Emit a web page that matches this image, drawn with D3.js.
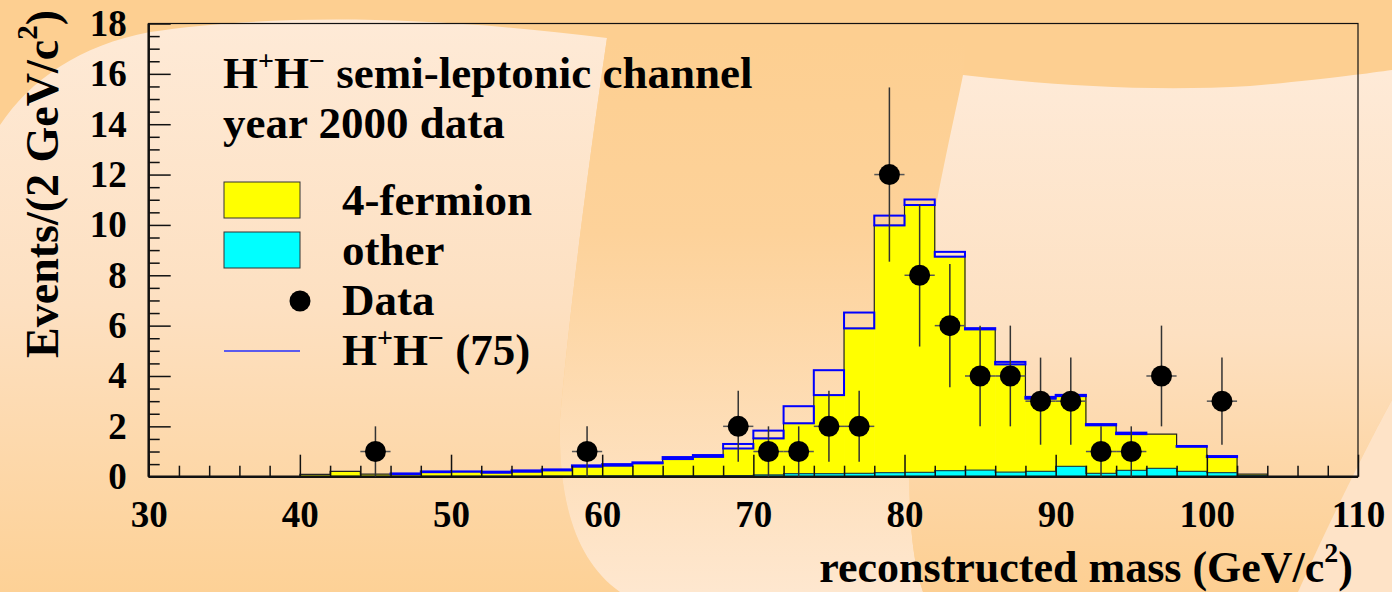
<!DOCTYPE html>
<html><head><meta charset="utf-8">
<script src="https://cdn.jsdelivr.net/npm/d3@7"></script>
<style>html,body{margin:0;padding:0;background:#fdcf91;}svg{display:block;}</style>
</head><body>
<svg id="c" width="1392" height="592"></svg>
<script>
// ---- data ----
const binLow = [40,42,44,46,48,50,52,54,56,58,60,62,64,66,68,70,72,74,76,78,80,82,84,86,88,90,92,94,96,98,100,102];
const binWidth = 2;
const otherBg = [0.01,0.01,0.01,0.01,0.01,0.01,0.01,0.01,0.02,0.03,0.03,0.03,0.03,0.03,0.04,0.07,0.12,0.12,0.13,0.16,0.17,0.24,0.26,0.18,0.21,0.41,0.13,0.25,0.33,0.21,0.16,0.04];
const fourFermion = [0.08,0.20,0.09,0.09,0.17,0.19,0.15,0.19,0.23,0.37,0.41,0.50,0.67,0.76,1.08,1.45,2.00,3.12,5.76,9.82,10.62,8.50,5.59,4.28,2.89,2.79,1.91,1.44,1.36,0.98,0.62,0.06];
const signalHH = [0,0,0,0.03,0.03,0.01,0.04,0.05,0.04,0.05,0.06,0.04,0.08,0.07,0.18,0.31,0.68,0.99,0.63,0.39,0.22,0.19,0.05,0.10,0.07,0.05,0.05,0.06,0,0.03,0.04,0];
const dataMass = [45,59,69,71,73,75,77,79,81,83,85,87,89,91,93,95,97,101];
const dataCounts = [1,1,2,1,1,2,2,12,8,6,4,4,3,3,1,1,4,3];
const dataErr = [1,1,1.41,1,1,1.41,1.41,3.46,2.83,2.45,2,2,1.73,1.73,1,1,2,1.73];
const xMajorTicks = [30,40,50,60,70,80,90,100,110];
const yMajorTicks = [0,2,4,6,8,10,12,14,16,18];
const legendLabels = ["4-fermion","other","Data"];

const svg = d3.select("#c");
const FONT = "'Liberation Serif','Times New Roman',serif";

// ---- decorative background ----
const defs = svg.append("defs");
function grad(id, y1, y2, stops){
  const g = defs.append("linearGradient").attr("id",id).attr("gradientUnits","userSpaceOnUse")
    .attr("x1",0).attr("x2",0).attr("y1",y1).attr("y2",y2);
  stops.forEach(s=>g.append("stop").attr("offset",s[0]).attr("stop-color",s[1]));
}
grad("gA",20,592,[[0,"#feead7"],[0.5,"#fde0c1"],[1,"#fdd196"]]);
grad("gM",40,592,[[0,"#fdcf91"],[0.35,"#fdd29a"],[1,"#fee7cf"]]);
grad("gB",75,592,[[0,"#feead7"],[0.5,"#fde0c1"],[0.75,"#fdd7a8"],[1,"#fdcf92"]]);
svg.append("rect").attr("width",1392).attr("height",592).attr("fill","#fdcf91");
svg.append("path").attr("fill","url(#gA)")
  .attr("d","M0,125 C30,80 80,45 150,32 C250,17 400,12 607,38 C595,120 570,300 560,420 C558,500 575,560 620,592 L0,592 Z");
svg.append("path").attr("fill","url(#gM)")
  .attr("d","M600,0 L607,38 C595,120 570,300 560,420 C558,500 575,560 620,592 L923,592 C905,540 908,450 914,378 C920,260 950,140 963,75 L970,0 Z");
svg.append("path").attr("fill","url(#gB)")
  .attr("d","M963,75 C1050,85 1150,92 1250,86 C1320,80 1370,73 1392,70 L1392,400 C1370,440 1330,520 1298,592 L923,592 C905,540 908,450 914,378 C920,260 950,140 963,75 Z");
svg.append("path").attr("fill","#fee3c7")
  .attr("d","M1392,400 C1370,440 1330,520 1298,592 L1392,592 Z");

// ---- scales ----
const x = d3.scaleLinear().domain([30,110]).range([148.7,1358]);
const y = d3.scaleLinear().domain([0,18]).range([476.7,23.5]);

const bins = binLow.map((lo,i)=>({lo, hi:lo+binWidth, other:otherBg[i], ff:fourFermion[i], sig:signalHH[i], tot:otherBg[i]+fourFermion[i]}));
const lastHi = binLow[binLow.length-1]+binWidth;
const stepLine = d3.line().x(d=>x(d[0])).y(d=>y(d[1])).curve(d3.curveStepAfter);
function stepPts(key){
  return [[binLow[0],0]].concat(bins.map(d=>[d.lo,d[key]])).concat([[lastHi,0]]);
}

const g = svg.append("g");
// 4-fermion (stacked on other)
g.selectAll("rect.ff").data(bins).join("rect").attr("class","ff")
  .attr("x",d=>x(d.lo)).attr("width",d=>x(d.hi)-x(d.lo)+0.5)
  .attr("y",d=>y(d.tot)).attr("height",d=>y(0)-y(d.tot))
  .attr("fill","#ffff00");
g.append("path").attr("d",stepLine(stepPts("tot"))).attr("fill","none").attr("stroke","#222").attr("stroke-width",1.2);
// other
g.selectAll("rect.ot").data(bins).join("rect").attr("class","ot")
  .attr("x",d=>x(d.lo)).attr("width",d=>x(d.hi)-x(d.lo)+0.5)
  .attr("y",d=>y(d.other)).attr("height",d=>y(0)-y(d.other))
  .attr("fill","#00ffff");
g.append("path").attr("d",stepLine(stepPts("other"))).attr("fill","none").attr("stroke","#1d4f4f").attr("stroke-width",1.2);
// signal H+H- (75) on top of background
g.selectAll("rect.sg").data(bins.filter(d=>d.sig>0)).join("rect").attr("class","sg")
  .attr("x",d=>x(d.lo)).attr("width",d=>x(d.hi)-x(d.lo))
  .attr("y",d=>y(d.tot+d.sig)).attr("height",d=>y(d.tot)-y(d.tot+d.sig))
  .attr("fill","none").attr("stroke","#0000ff").attr("stroke-width",2);

// ---- axes ----
const xMinor = d3.range(30,110.01,2).filter(v=>v%10!==0);
const yMinor = d3.range(0,18.01,0.5).filter(v=>v%2!==0);
svg.append("g").attr("transform",`translate(0,${y(0)})`)
  .call(d3.axisBottom(x).tickValues(xMajorTicks).tickSize(-22).tickPadding(24).tickFormat(d3.format("d")));
svg.append("g").attr("transform",`translate(0,${y(0)})`)
  .call(d3.axisBottom(x).tickValues(xMinor).tickSize(-11).tickFormat(""));
svg.append("g").attr("transform",`translate(${x(30)},0)`)
  .call(d3.axisLeft(y).tickValues(yMajorTicks).tickSize(-22).tickPadding(22).tickFormat(d3.format("d")));
svg.append("g").attr("transform",`translate(${x(30)},0)`)
  .call(d3.axisLeft(y).tickValues(yMinor).tickSize(-11).tickFormat(""));
svg.selectAll(".domain").remove();
svg.selectAll(".tick line").attr("stroke","#111").attr("stroke-width",1.5);
svg.selectAll(".tick text").attr("font-family",FONT).attr("font-weight","bold").attr("font-size",37).attr("fill","#000");
// frame
svg.append("rect").attr("x",x(30)).attr("y",y(18)).attr("width",x(110)-x(30)).attr("height",y(0)-y(18))
  .attr("fill","none").attr("stroke","#111").attr("stroke-width",1.2);
svg.append("line").attr("x1",x(30)).attr("x2",x(110)).attr("y1",y(0)).attr("y2",y(0)).attr("stroke","#111").attr("stroke-width",2.5);
svg.append("line").attr("x1",x(30)).attr("x2",x(30)).attr("y1",y(0)).attr("y2",y(18)).attr("stroke","#111").attr("stroke-width",2.5);

// ---- data points ----
const pts = dataMass.map((m,i)=>({m, n:dataCounts[i], e:dataErr[i]}));
const pg = svg.append("g");
pg.selectAll("line.h").data(pts).join("line")
  .attr("x1",d=>x(d.m-1)).attr("x2",d=>x(d.m+1)).attr("y1",d=>y(d.n)).attr("y2",d=>y(d.n))
  .attr("stroke","#555").attr("stroke-width",1.5);
pg.selectAll("line.v").data(pts).join("line")
  .attr("x1",d=>x(d.m)).attr("x2",d=>x(d.m)).attr("y1",d=>y(d.n-d.e)).attr("y2",d=>y(d.n+d.e))
  .attr("stroke","#333").attr("stroke-width",1.5);
pg.selectAll("circle").data(pts).join("circle")
  .attr("cx",d=>x(d.m)).attr("cy",d=>y(d.n)).attr("r",10.5).attr("fill","#000");

// ---- titles ----
function txt(sel, xx, yy, size, anchor){
  return sel.append("text").attr("x",xx).attr("y",yy).attr("font-family",FONT).attr("font-weight","bold")
    .attr("font-size",size).attr("text-anchor",anchor||"start").attr("fill","#000");
}
const xt = txt(svg,1353,582,44,"end");
xt.append("tspan").text("reconstructed mass (GeV/c");
xt.append("tspan").attr("font-size",28).attr("dy",-20).text("2");
xt.append("tspan").attr("dy",20).text(")");

const yt = txt(svg,0,0,46,"middle").attr("transform","translate(58,184) rotate(-90)");
yt.append("tspan").text("Events/(2 GeV/c");
yt.append("tspan").attr("font-size",29).attr("dy",-21).text("2");
yt.append("tspan").attr("dy",21).text(")");

// legend header
function hh(t){
  t.append("tspan").text("H");
  t.append("tspan").attr("font-size",28).attr("dy",-18).text("+");
  t.append("tspan").attr("dy",18).text("H");
  t.append("tspan").attr("font-size",28).attr("dy",-18).text("\u2212");
  t.append("tspan").attr("dy",18).text(" ");
}
const t1 = txt(svg,223,88,45);
hh(t1); t1.append("tspan").text("semi-leptonic channel");
txt(svg,223,138,45).text("year 2000 data");

// legend entries
svg.append("rect").attr("x",224).attr("y",182).attr("width",76).attr("height",36).attr("fill","#ffff00").attr("stroke","#333").attr("stroke-width",1);
svg.append("rect").attr("x",224).attr("y",232).attr("width",76).attr("height",36).attr("fill","#00ffff").attr("stroke","#333").attr("stroke-width",1);
svg.append("circle").attr("cx",300).attr("cy",301).attr("r",10.5).attr("fill","#000");
svg.append("line").attr("x1",224).attr("x2",300).attr("y1",351).attr("y2",351).attr("stroke","#5a5aee").attr("stroke-width",2);
txt(svg,342,215,45).text(legendLabels[0]);
txt(svg,342,265,45).text(legendLabels[1]);
txt(svg,342,315,45).text(legendLabels[2]);
const t4 = txt(svg,342,365,45);
hh(t4); t4.append("tspan").text("(75)");
</script>
</body></html>
